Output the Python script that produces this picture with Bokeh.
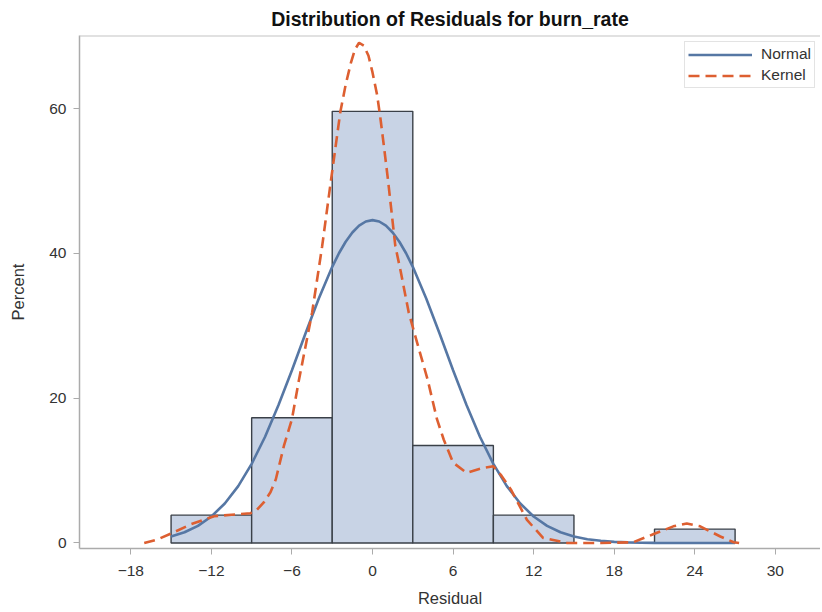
from bokeh.plotting import figure
from bokeh.models import Range1d, FixedTicker, Legend, LegendItem, Span
from bokeh.embed import file_html
from bokeh.resources import INLINE

# ---- data ----
bin_centers = [-12, -6, 0, 6, 12, 24]
bin_percent = [3.85, 17.31, 59.62, 13.46, 3.85, 1.92]
bin_width = 6

normal_x = [-15, -14, -13, -12, -11, -10, -9, -8, -7, -6, -5, -4, -3, -2.5, -2, -1.5,
            -1, -0.5, 0, 0.5, 1, 1.5, 2, 2.5, 3, 4, 5, 6, 7, 8, 9, 10, 11, 12, 13, 14,
            15, 16, 17, 18, 19, 20, 21, 22, 23, 24, 25, 26, 27]
normal_y = [0.90, 1.48, 2.37, 3.66, 5.46, 7.86, 10.93, 14.68, 19.05, 23.87, 28.90,
            33.78, 38.15, 40.02, 41.61, 42.89, 43.83, 44.41, 44.60, 44.41, 43.83,
            42.89, 41.61, 40.02, 38.15, 33.78, 28.90, 23.87, 19.05, 14.68, 10.93,
            7.86, 5.46, 3.66, 2.37, 1.48, 0.90, 0.52, 0.30, 0.16, 0.08, 0.04, 0.02,
            0.01, 0.0, 0.0, 0.0, 0.0, 0.0]

kernel_x = [-17.0, -16.0, -14.9, -13.5, -11.8, -10.5, -9.1, -8.6, -8.1, -7.6, -7.2,
            -6.6, -6.0, -5.5, -4.5, -3.75, -3.1, -2.4, -2.0, -1.6, -1.3, -1.0, -0.65,
            -0.3, 0.0, 0.35, 0.6, 0.85, 1.15, 1.7, 2.1, 2.7, 3.5, 4.1, 4.8, 5.3, 6.0,
            7.0, 8.3, 9.0, 9.6, 10.3, 11.5, 12.7, 14.5, 17.0, 19.4, 20.9, 22.4, 23.4,
            24.4, 25.9, 26.9, 27.3]
kernel_y = [0.0, 0.5, 1.4, 2.6, 3.7, 3.9, 4.1, 4.6, 5.6, 7.0, 8.8,
            13.4, 17.1, 22.3, 31.8, 41.0, 50.0, 59.5, 63.3, 66.4, 68.2, 69.1, 68.7,
            67.3, 65.0, 61.8, 58.5, 54.8, 50.2, 41.0, 37.5, 31.8, 26.5, 22.6, 17.1,
            14.3, 11.1, 9.7, 10.4, 10.6, 9.3, 7.4, 3.2, 0.7, 0.0, 0.0, 0.1, 1.2, 2.3,
            2.7, 2.3, 0.9, 0.1, 0.0]

x_ticks = [-18, -12, -6, 0, 6, 12, 18, 24, 30]
y_ticks = [0, 20, 40, 60]

FONT = "Liberation Sans"
AXIS_GRAY = "#ABABAB"
TEXT = "#333333"

p = figure(frame_width=741, frame_height=513,
           min_border_left=79, min_border_right=0, min_border_top=35, min_border_bottom=58,
           x_range=Range1d(-21.82, 33.36), y_range=Range1d(-0.76, 70.1),
           output_backend="svg", toolbar_location=None,
           title="Distribution of Residuals for burn_rate")

p.title.text_font = FONT
p.title.text_font_size = "19.5px"
p.title.text_font_style = "bold"
p.title.text_color = "#111111"
p.title.align = "center"
p.title.vertical_align = "top"
p.title.standoff = 8

p.outline_line_color = None
p.grid.visible = False
p.background_fill_color = "white"
p.border_fill_color = "white"

bars = p.vbar(x=bin_centers, top=bin_percent, bottom=0, width=bin_width,
              fill_color="#C8D3E5", line_color="#3A4048", line_width=1.4)

normal = p.line(normal_x, normal_y, line_color="#5677A4", line_width=2.6)
kernel = p.line(kernel_x, kernel_y, line_color="#DD5F31", line_width=2.6,
                line_dash="11 6")

top_border = Span(location=70.1, dimension="width", line_color="#C4C4C4", line_width=2)
p.add_layout(top_border)

for ax in (p.xaxis[0], p.yaxis[0]):
    ax.axis_line_color = AXIS_GRAY
    ax.axis_line_width = 1.5
    ax.major_tick_line_color = AXIS_GRAY
    ax.major_tick_out = 6
    ax.major_tick_in = 0
    ax.minor_tick_line_color = None
    ax.major_label_text_font = FONT
    ax.major_label_text_font_size = "15.5px"
    ax.major_label_text_color = TEXT
    ax.axis_label_text_font = FONT
    ax.axis_label_text_font_size = "16.5px"
    ax.axis_label_text_font_style = "normal"
    ax.axis_label_text_color = TEXT

p.xaxis.ticker = FixedTicker(ticks=x_ticks)
p.yaxis.ticker = FixedTicker(ticks=y_ticks)
p.xaxis.axis_label = "Residual"
p.yaxis.axis_label = "Percent"
p.xaxis.major_label_standoff = 11
p.xaxis.axis_label_standoff = 10
p.yaxis.major_label_standoff = 7
p.yaxis.axis_label_standoff = 19

legend = Legend(items=[LegendItem(label="Normal", renderers=[normal]),
                       LegendItem(label="Kernel", renderers=[kernel])],
                location=(605, 460))
legend.label_text_font = FONT
legend.label_text_font_size = "15.5px"
legend.label_text_color = TEXT
legend.glyph_width = 64
legend.glyph_height = 17
legend.label_height = 17
legend.label_standoff = 9
legend.spacing = 3
legend.padding = 3
legend.margin = 0
legend.border_line_color = "#C8C8C8"
legend.border_line_width = 1
legend.background_fill_alpha = 1.0
p.add_layout(legend)

open("out.html", "w").write(file_html(p, INLINE))
